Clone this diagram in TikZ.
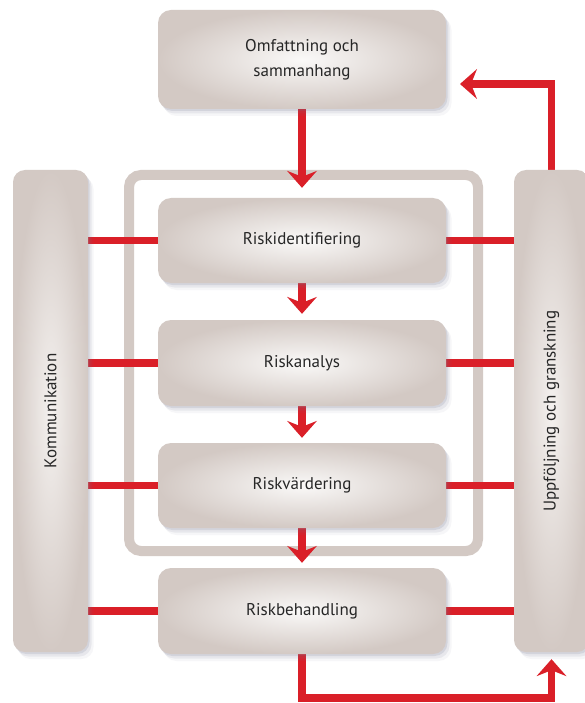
\documentclass[tikz,border=0pt]{standalone}
\usepackage{fontspec}
\setmainfont{PT Sans}
\usetikzlibrary{arrows.meta,shadows,calc}
\pgfdeclarelayer{bg}
\pgfsetlayers{bg,main}
\definecolor{boxc}{HTML}{D3C9C4}
\definecolor{boxin}{HTML}{FAF9F8}
\definecolor{barin}{HTML}{F4F1EF}
\definecolor{redc}{HTML}{DA1F28}
\definecolor{shc}{HTML}{70738E}
\definecolor{txt}{HTML}{262626}
\tikzset{
  softshadow/.style={
    drop shadow={shadow xshift=1.5pt,shadow yshift=-2pt,opacity=.16,fill=shc},
    drop shadow={shadow xshift=3.5pt,shadow yshift=-4.5pt,opacity=.11,fill=shc},
    drop shadow={shadow xshift=5.5pt,shadow yshift=-7pt,opacity=.06,fill=shc}},
  stepbox/.style={shade, rounded corners=13pt, inner color=boxin, outer color=boxc,
    minimum width=288pt, minimum height=85pt, text=txt,
    font=\fontsize{17}{25}\selectfont, align=center, softshadow},
  sidebar/.style={shade, rounded corners=12pt, inner color=barin, outer color=boxc,
    minimum width=75pt, minimum height=482pt, softshadow},
  bartext/.style={rotate=90, text=txt, font=\fontsize{17}{20}\selectfont},
  redline/.style={draw=redc, line width=7.5pt},
  redarrow/.style={redline, -{Stealth[length=17pt,width=30pt,inset=6pt,line width=0pt]}},
}
\begin{document}
\begin{tikzpicture}[x=1pt,y=-1pt]
\useasboundingbox (0,0) rectangle (585,703);
% nodes
\node[stepbox, minimum height=99pt] (omf) at (302,59.5) {Omfattning och\\sammanhang};
\node[stepbox] (rid) at (302,240.5) {Riskidentifiering};
\node[stepbox, minimum height=86pt] (ran) at (302,363) {Riskanalys};
\node[stepbox] (rva) at (302,485.5) {Riskvärdering};
\node[stepbox, minimum height=86pt] (rbe) at (302,611) {Riskbehandling};
\node[sidebar] (kom) at (50.5,411) {};
\node[sidebar] (ufg) at (551.5,411) {};
\node[bartext] (komtxt) at (kom.center) {Kommunikation};
\node[bartext] (ufgtxt) at (ufg.center) {Uppföljning och granskning};
\coordinate (tipA) at (460,84);
\coordinate (botc) at (551.5,698);
\coordinate (tipB) at ($(ufg.south)+(0,7)$);
\begin{pgfonlayer}{bg}
  \fill[white] (0,0) rectangle (585,703);
  \draw[boxc, line width=10pt, rounded corners=12pt] (129,175) rectangle (478,551);
  % horizontal connectors
  \foreach \n in {rid,ran,rva,rbe}{
    \draw[redline] (kom.east |- \n.west) -- (\n.west);
    \draw[redline] (\n.east) -- (ufg.west |- \n.east);
  }
  % down arrows
  \draw[redarrow] (omf.south) -- ($(rid.north)+(0,-10)$);
  \draw[redarrow] (rid.south) -- ($(ran.north)+(0,-6)$);
  \draw[redarrow] (ran.south) -- ($(rva.north)+(0,-5)$);
  \draw[redarrow] (rva.south) -- ($(rbe.north)+(0,-5)$);
  % feedback arrows
  \draw[redarrow] (ufg.north) |- (tipA);
  \draw[redarrow] (rbe.south) |- (botc) -- (tipB);
\end{pgfonlayer}
\end{tikzpicture}
\end{document}
